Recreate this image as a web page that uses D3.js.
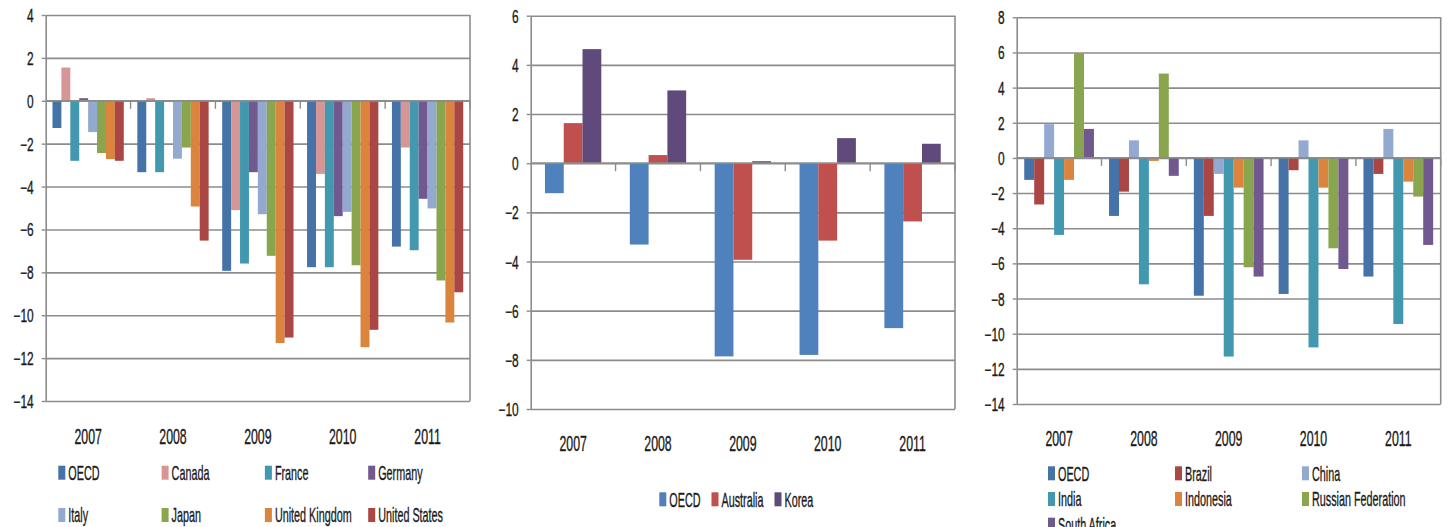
<!DOCTYPE html>
<html>
<head>
<meta charset="utf-8">
<script src="https://cdn.jsdelivr.net/npm/d3@7"></script>
<style>
  body { margin: 0; background: #fff; }
  svg { display: block; }
  text { font-family: "Liberation Sans", Arial, sans-serif; fill: #1a1a1a; stroke: #1a1a1a; stroke-width: 0.35; }
</style>
</head>
<body>
<svg id="chart" width="1456" height="527"></svg>
<script>
const years = ["2007", "2008", "2009", "2010", "2011"];

// panel 1: G7 economies
const g7Series = ["OECD", "Canada", "France", "Germany", "Italy", "Japan", "United Kingdom", "United States"];
const g7Values = [
    [-1.27, -3.33, -7.93, -7.76, -6.80],
    [1.55, 0.12, -5.10, -3.41, -2.18],
    [-2.80, -3.33, -7.59, -7.76, -6.97],
    [0.12, 0.03, -3.33, -5.38, -4.57],
    [-1.46, -2.70, -5.29, -5.18, -5.02],
    [-2.44, -2.18, -7.23, -7.67, -8.38],
    [-2.72, -4.93, -11.30, -11.49, -10.34],
    [-2.80, -6.52, -11.04, -10.68, -8.93]
];
const g7Colors = ["#4572A7", "#D69695", "#4198AF", "#71588F", "#93A9CF", "#89A54E", "#DB843D", "#AA4643"];
const g7Ticks = [4, 2, 0, -2, -4, -6, -8, -10, -12, -14];

// panel 2: Australia and Korea
const apSeries = ["OECD", "Australia", "Korea"];
const apValues = [
    [-1.22, -3.31, -7.86, -7.80, -6.71],
    [1.63, 0.33, -3.93, -3.15, -2.37],
    [4.64, 2.96, 0.08, 1.02, 0.79]
];
const apColors = ["#4F81BD", "#C0504D", "#604A7B"];
const apTicks = [6, 4, 2, 0, -2, -4, -6, -8, -10];

// panel 3: emerging economies
const emSeries = ["OECD", "Brazil", "China", "India", "Indonesia", "Russian Federation", "South Africa"];
const emValues = [
    [-1.25, -3.30, -7.84, -7.74, -6.75],
    [-2.65, -1.92, -3.30, -0.70, -0.91],
    [1.92, 1.00, -0.91, 1.00, 1.65],
    [-4.38, -7.19, -11.30, -10.78, -9.45],
    [-1.25, -0.17, -1.69, -1.69, -1.35],
    [5.96, 4.80, -6.22, -5.14, -2.20],
    [1.65, -1.02, -6.75, -6.32, -4.95]
];
const emColors = ["#4572A7", "#AA4643", "#93A9CF", "#4198AF", "#DB843D", "#89A54E", "#71588F"];
const emTicks = [8, 6, 4, 2, 0, -2, -4, -6, -8, -10, -12, -14];

const svg = d3.select("#chart");
const gridColor = "#8c8c8c";

// squeeze text horizontally (the source font is a narrow one)
function squeeze(sel, sx) {
    sel.each(function () {
        const t = d3.select(this);
        const x = +t.attr("x") || 0;
        const y = +t.attr("y") || 0;
        t.attr("x", 0).attr("y", 0)
            .attr("transform", `translate(${x},${y}) scale(${sx},1)`);
    });
}

function drawPanel(p) {
    const w = p.x1 - p.x0;
    const g = svg.append("g").attr("transform", `translate(${p.x0},0)`);

    const y = d3.scaleLinear().domain(d3.extent(p.ticks)).range([p.yBot, p.yTop]);
    const x = d3.scaleBand().domain(years).range([0, w]).paddingInner(0).paddingOuter(0);
    const pad = x.bandwidth() * p.groupPad;
    const xs = d3.scaleBand().domain(p.series).range([pad, x.bandwidth() - pad]).padding(0);

    // gridlines
    g.append("g")
        .call(d3.axisLeft(y).tickValues(p.ticks).tickSize(-w).tickFormat(""))
        .call(a => a.select(".domain").remove())
        .selectAll("line").attr("stroke", gridColor).attr("stroke-width", 1.6);

    // bars
    const rows = [];
    p.series.forEach((s, i) => {
        years.forEach((yr, j) => rows.push({ s, yr, v: p.values[i][j], c: p.colors[i] }));
    });
    g.selectAll(".bar")
        .data(rows)
        .enter().append("rect")
        .attr("class", "bar")
        .attr("x", d => x(d.yr) + xs(d.s))
        .attr("width", xs.bandwidth())
        .attr("y", d => y(Math.max(0, d.v)))
        .attr("height", d => Math.abs(y(d.v) - y(0)))
        .attr("fill", d => d.c);

    // zero line on top of bars
    g.append("line")
        .attr("x1", 0).attr("x2", w)
        .attr("y1", y(0)).attr("y2", y(0))
        .attr("stroke", gridColor).attr("stroke-width", 1.8);

    // category boundary ticks
    const bounds = years.slice(1).map(d => x(d)).concat([w]);
    g.selectAll(".ctick")
        .data(bounds)
        .enter().append("line")
        .attr("x1", d => d).attr("x2", d => d)
        .attr("y1", y(0)).attr("y2", y(0) + 8)
        .attr("stroke", gridColor).attr("stroke-width", 1.4);

    // right border
    g.append("line")
        .attr("x1", w).attr("x2", w)
        .attr("y1", p.yTop).attr("y2", p.yBot)
        .attr("stroke", gridColor).attr("stroke-width", 1.6);

    // left axis
    const ya = g.append("g")
        .call(d3.axisLeft(y).tickValues(p.ticks).tickSize(4).tickSizeOuter(0).tickPadding(8).tickFormat(d3.format("d")));
    ya.select(".domain").attr("stroke", gridColor).attr("stroke-width", 1.6);
    ya.selectAll("line").attr("stroke", gridColor).attr("stroke-width", 1.4);
    ya.selectAll("text").attr("font-size", 18).attr("dy", "0.36em").call(squeeze, 0.66);

    // year labels
    const xa = g.append("g").attr("transform", `translate(0,${p.yearY})`)
        .call(d3.axisBottom(x).tickSize(0).tickPadding(0));
    xa.select(".domain").remove();
    xa.selectAll("text").attr("font-size", 22).attr("dy", "0.36em").call(squeeze, 0.56);

    // legend
    const lg = svg.append("g");
    let cx = p.legend.x;
    p.series.forEach((s, i) => {
        let lx, ly;
        if (p.legend.inline) {
            lx = cx; ly = p.legend.rows[0];
        } else {
            lx = p.legend.x + (i % p.legend.cols) * p.legend.colStep;
            ly = p.legend.rows[Math.floor(i / p.legend.cols)];
        }
        lg.append("rect")
            .attr("x", lx).attr("y", ly - 7)
            .attr("width", 7).attr("height", 14)
            .attr("fill", p.colors[i]);
        const t = lg.append("text")
            .attr("x", lx + 10).attr("y", ly)
            .attr("dy", "0.36em")
            .attr("font-size", 20)
            .text(s)
            .call(squeeze, 0.54);
        cx = lx + 10 + t.node().getComputedTextLength() * 0.54 + 11;
    });
}

drawPanel({
    x0: 45.7, x1: 470, yTop: 15, yBot: 401, yearY: 436,
    ticks: g7Ticks, series: g7Series, values: g7Values, colors: g7Colors, groupPad: 0.08,
    legend: { x: 58.3, cols: 4, colStep: 103.3, rows: [472.7, 515] }
});

drawPanel({
    x0: 530.7, x1: 955, yTop: 15.7, yBot: 409, yearY: 442.7,
    ticks: apTicks, series: apSeries, values: apValues, colors: apColors, groupPad: 0.168,
    legend: { x: 659.3, inline: true, rows: [499.3] }
});

drawPanel({
    x0: 1016.7, x1: 1440.7, yTop: 17.3, yBot: 404, yearY: 438.3,
    ticks: emTicks, series: emSeries, values: emValues, colors: emColors, groupPad: 0.089,
    legend: { x: 1048, cols: 3, colStep: 127, rows: [473.3, 499, 524.7] }
});
</script>
</body>
</html>
